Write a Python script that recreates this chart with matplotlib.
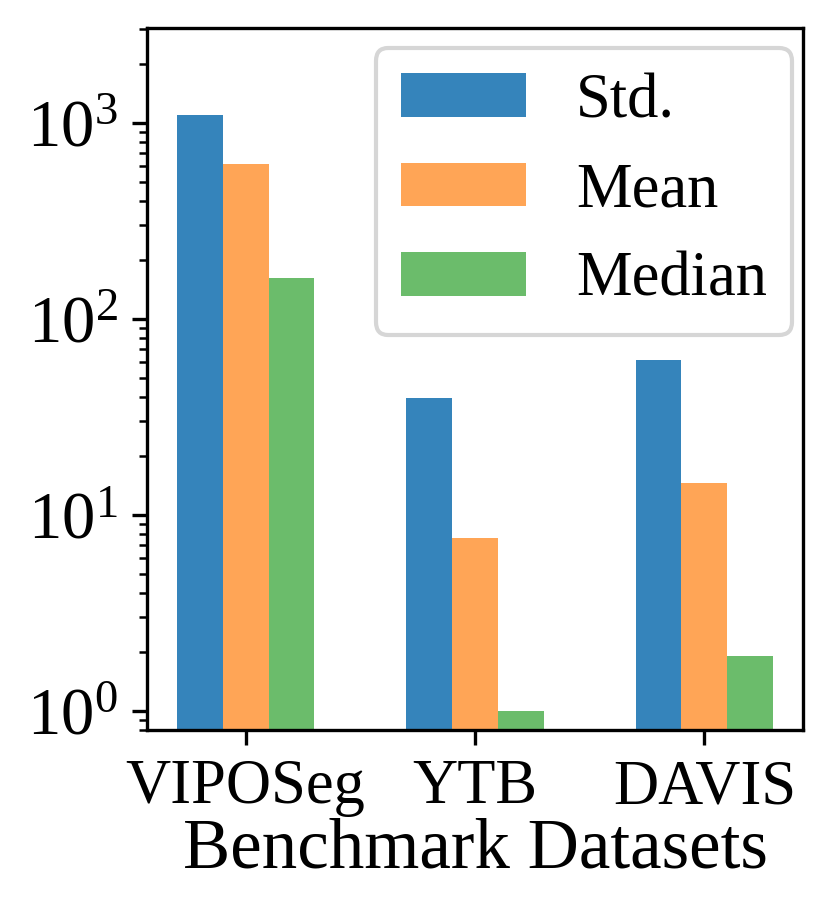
import numpy as np
import matplotlib
matplotlib.use("Agg")
import matplotlib.pyplot as plt

plt.rcParams['font.family'] = ['Liberation Serif', 'DejaVu Serif']
plt.rcParams['mathtext.fontset'] = 'stix'

datasets = ['VIPOSeg', 'YTB', 'DAVIS']
std_vals = [1093, 39.6, 61.4]
mean_vals = [615, 7.6, 14.5]
median_vals = [161.5, 1.0, 1.91]

fig = plt.figure(figsize=(830/300, 923/300), dpi=300)
ax = fig.add_axes([147/830, 193/923, 656/830, 702/923])

x = np.arange(len(datasets))
w = 0.2
ax.bar(x - w, std_vals, w, color='tab:blue', alpha=0.9, label='Std.')
ax.bar(x, mean_vals, w, color='tab:orange', alpha=0.7, label='Mean')
ax.bar(x + w, median_vals, w, color='tab:green', alpha=0.7, label='Median')

ax.set_yscale('log')
ax.set_ylim(0.8, 3040)
ax.set_xticks(x)
ax.set_xticklabels(datasets)
ax.tick_params(axis='x', labelsize=15)
ax.tick_params(axis='y', labelsize=16)
ax.set_xlabel('Benchmark Datasets', fontsize=17, labelpad=0)

ax.legend(fontsize=15, loc='upper right', bbox_to_anchor=(0.983, 0.9715),
          borderaxespad=0)

fig.savefig('out.png', dpi=300)
